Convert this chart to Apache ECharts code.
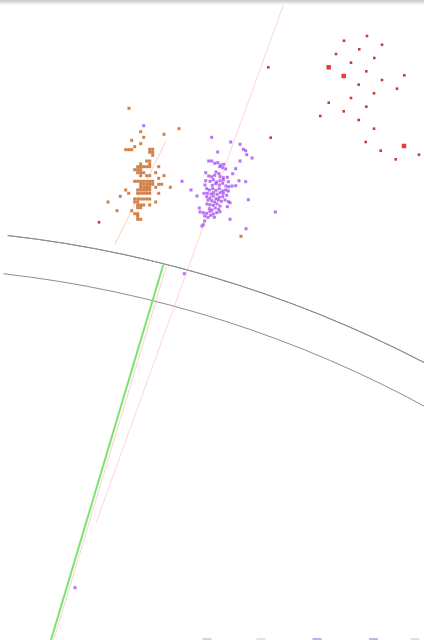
<!DOCTYPE html>
<html>
<head>
<meta charset="utf-8">
<script src="https://cdn.jsdelivr.net/npm/echarts@6/dist/echarts.min.js"></script>
<style>
  html, body { margin: 0; padding: 0; background: #ffffff; }
  #chart { width: 424px; height: 640px; }
</style>
</head>
<body>
<div id="chart"></div>
<script>
// Orange group
const orangePoints = [
  [129,108.3],[179,128.7],[140.7,131.7],[164,134.3],[143.7,137.3],[131.7,140.3],[140.7,143.7],[134.7,146.7],
  [125.7,149.7],[128.7,149.7],[131.7,149.7],[149.7,149.3],[152.7,149.3],[149.7,152.3],[152.7,152.3],[152.7,155.3],
  [146.7,161],[149.7,161],[149.7,164],[140.7,164],[137.7,166.7],[140.7,166.7],[143.7,166.7],[146.7,166.7],
  [149.7,166.7],[158.7,166.7],[134.7,169.7],[137.7,169.7],[140.7,169.7],[137.7,172.7],[140.7,172.7],[143.7,172.7],
  [155.7,172.7],[140.7,175.7],[146.7,175.7],[149.7,175.7],[164,175.7],[158.7,178.3],[134.7,181.3],[137.7,181.3],
  [140.7,181.3],[143.7,181.3],[146.7,181.3],[149.7,181.3],[152.7,181.3],[140.7,184.3],[143.7,184.3],[146.7,184.3],
  [149.7,184.3],[152.7,184.3],[158.7,184.3],[161.7,184.3],[140.7,187.3],[143.7,187.3],[146.7,187.3],[149.7,187.3],
  [155.7,187.3],[170.3,187.3],[125.7,190],[137.7,190],[140.7,190],[143.7,190],[146.7,190],[149.7,190],
  [128.7,193.3],[137.7,193.3],[140.7,193.3],[143.7,193.3],[146.7,193.3],[149.7,193.3],[158.7,193.3],[120.3,196.3],
  [134.7,199],[137.7,199],[140.7,199],[143.7,199],[146.7,199],[149.7,199],[108,202],[134.7,202],
  [137.7,202],[155.7,202],[137.7,205],[140.7,205],[143.7,205],[149.7,205],[137.7,207.7],[140.7,207.7],
  [117,210.7],[131.7,210.7],[134.7,213.7],[137.7,213.7],[137.7,216.3],[137.7,219.3],[140.7,219.3],[241,236.3]
];

// Purple group
const purplePoints = [
  [143.7,125.7],[211.7,137.3],[230.7,142],[240,144.3],[243.3,149.3],[245.7,150.7],[246.7,154.7],[252,158],
  [217.7,152],[240,161],[208.7,161],[211.7,161],[214.7,163.3],[217.7,162.7],[220.7,165],[223.7,164.3],
  [219.7,166.7],[222.7,167.7],[225.7,169],[235.7,168.7],[205.7,172.7],[216,172],[219,173.7],[232.7,173.7],
  [208.7,176],[211.7,176.7],[214.7,175.3],[220,176.7],[223.3,177.7],[227.3,177.3],[182,181.3],
  [205.7,180.7],[210,181.3],[213.3,179.7],[216.7,182],[220,180.7],[223.3,180],[228.3,181.7],[239,180.7],[245.7,181.7],
  [205,185],[212.3,185.3],[215.7,183.7],[219.3,185],[222.7,183.3],[226,186],[228.7,186.7],[232,186],[235.7,185.7],
  [191,190],[206.7,188.7],[209.3,190],[212.7,188.7],[216,190.3],[219.3,188.7],[222.7,191],[225.7,190],[228.3,191],
  [204,193.3],[207.3,193.3],[211,194],[213.3,192.7],[217,194.3],[220,192.7],[223.3,193.3],[197,196],
  [206.7,196.7],[210,198],[213.3,196],[216,198.7],[219.3,197.3],[222.7,196.7],[226.7,195.3],
  [208,200],[211.7,200.7],[214.7,202],[218.3,200],[221.3,201.3],[225,200],[228.3,201.7],
  [248.3,199.7],[230,202.7],[227.3,206.7],
  [207,204],[210,204.7],[213.3,205.3],[217,204],[220,206],
  [199.3,208],[209.3,208.7],[212,210],[215.3,208],[218.7,209.3],
  [200,212],[203.3,212.7],[206.7,213.3],[210,211.3],[213.3,214],[216.7,212.7],[220,211.7],[275.3,212],
  [204.7,216],[208,217.3],[210.7,215.3],[214.3,217.3],[230,219.3],
  [204.7,221],[203.3,224.7],[202,226],[246,228.7],[184.3,273.7],[75,587.7]
];

// Red group
const redPoints = [
  [367,36],[344,40.7],[382,44.7],[359.3,49.3],[336,54],[374.3,58],[351,62.7],[366.3,71.3],
  [404.3,75.3],[382,80],[358.7,84.7],[397,88.7],[374,93.3],[351,98],[328.7,102.7],[366.3,106.7],
  [343.7,111.3],[320.3,116],[358.7,120],[374,128.7],[365.7,142],[380.7,150.7],[419,154.7],[395.7,159.3],
  [268.3,67.3],[270.7,137.7],[99,222.3]
];
const redLargePoints = [[328.7,67.3],[343.7,76],[404,146]];

// Straight strokes
const greenStroke = [[163.3,264.7],[51,640]];
const pinkStrokeLong = [[283.3,5],[96,523]];
const pinkStrokeShort = [[166,141],[115,244]];
const pinkStrokeBeside = [[166.3,266.5],[53.8,640]];

// Marks along the lower edge
const edgeMarks = [[207,639.5],[261,639.5],[317,639.5],[373.5,639.5],[415,639.5]];
const edgeMarkColors = ['#c9c3ee','#dedaf3','#a9a2e2','#aea7e3','#d6d2f2'];

const chart = echarts.init(document.getElementById('chart'), null, { renderer: 'canvas' });

const hiddenAxis = { show: false };
const arcColor = '#8e8e8e';

chart.setOption({
  animation: false,
  backgroundColor: '#ffffff',
  grid: { left: 0, right: 0, top: 0, bottom: 0, containLabel: false },
  xAxis: { type: 'value', min: 0, max: 424, ...hiddenAxis },
  yAxis: { type: 'value', min: 0, max: 640, inverse: true, ...hiddenAxis },
  polar: { center: [-126, 1420], radius: 1192 },
  angleAxis: {
    type: 'value', min: 0, max: 360, startAngle: 83.56, endAngle: -200,
    axisLine: { show: true, lineStyle: { color: arcColor, width: 1 } },
    axisTick: { show: false }, axisLabel: { show: false }, splitLine: { show: false }
  },
  radiusAxis: {
    type: 'value', min: 0, max: 31, interval: 10,
    axisLine: { show: false }, axisTick: { show: false }, axisLabel: { show: false },
    splitLine: { show: true, lineStyle: { color: arcColor, width: 1 } }
  },
  graphic: [{
    type: 'rect', left: 0, top: 0, z: 100,
    shape: { width: 424, height: 5 },
    style: {
      fill: new echarts.graphic.LinearGradient(0, 0, 0, 1, [
        { offset: 0, color: 'rgba(0,0,0,0.22)' },
        { offset: 1, color: 'rgba(0,0,0,0)' }
      ])
    }
  }],
  series: [
    {
      type: 'line', data: pinkStrokeLong, symbol: 'none', silent: true,
      lineStyle: { color: 'rgba(248,150,150,0.4)', width: 1 }
    },
    {
      type: 'line', data: pinkStrokeShort, symbol: 'none', silent: true,
      lineStyle: { color: 'rgba(245,160,120,0.5)', width: 1 }
    },
    {
      type: 'line', data: pinkStrokeBeside, symbol: 'none', silent: true,
      lineStyle: { color: 'rgba(248,150,150,0.45)', width: 1 }
    },
    {
      type: 'line', data: greenStroke, symbol: 'none', silent: true,
      lineStyle: { color: '#7be46c', width: 2 }
    },
    {
      type: 'scatter', data: orangePoints, symbol: 'rect', symbolSize: 3,
      itemStyle: { color: '#c4601a' }
    },
    {
      type: 'scatter', data: purplePoints, symbol: 'rect', symbolSize: 3,
      itemStyle: { color: '#a64ff2' }
    },
    {
      type: 'scatter', data: redPoints, symbol: 'rect', symbolSize: 2.6,
      itemStyle: { color: '#b40e0e' }
    },
    {
      type: 'scatter', data: redLargePoints, symbol: 'rect', symbolSize: 4.5,
      itemStyle: { color: '#dc0c0c' }
    },
    {
      type: 'scatter', data: edgeMarks.map((p, i) => ({ value: p, itemStyle: { color: edgeMarkColors[i] } })),
      symbol: 'rect', symbolSize: [9, 3]
    }
  ]
});
</script>
</body>
</html>
